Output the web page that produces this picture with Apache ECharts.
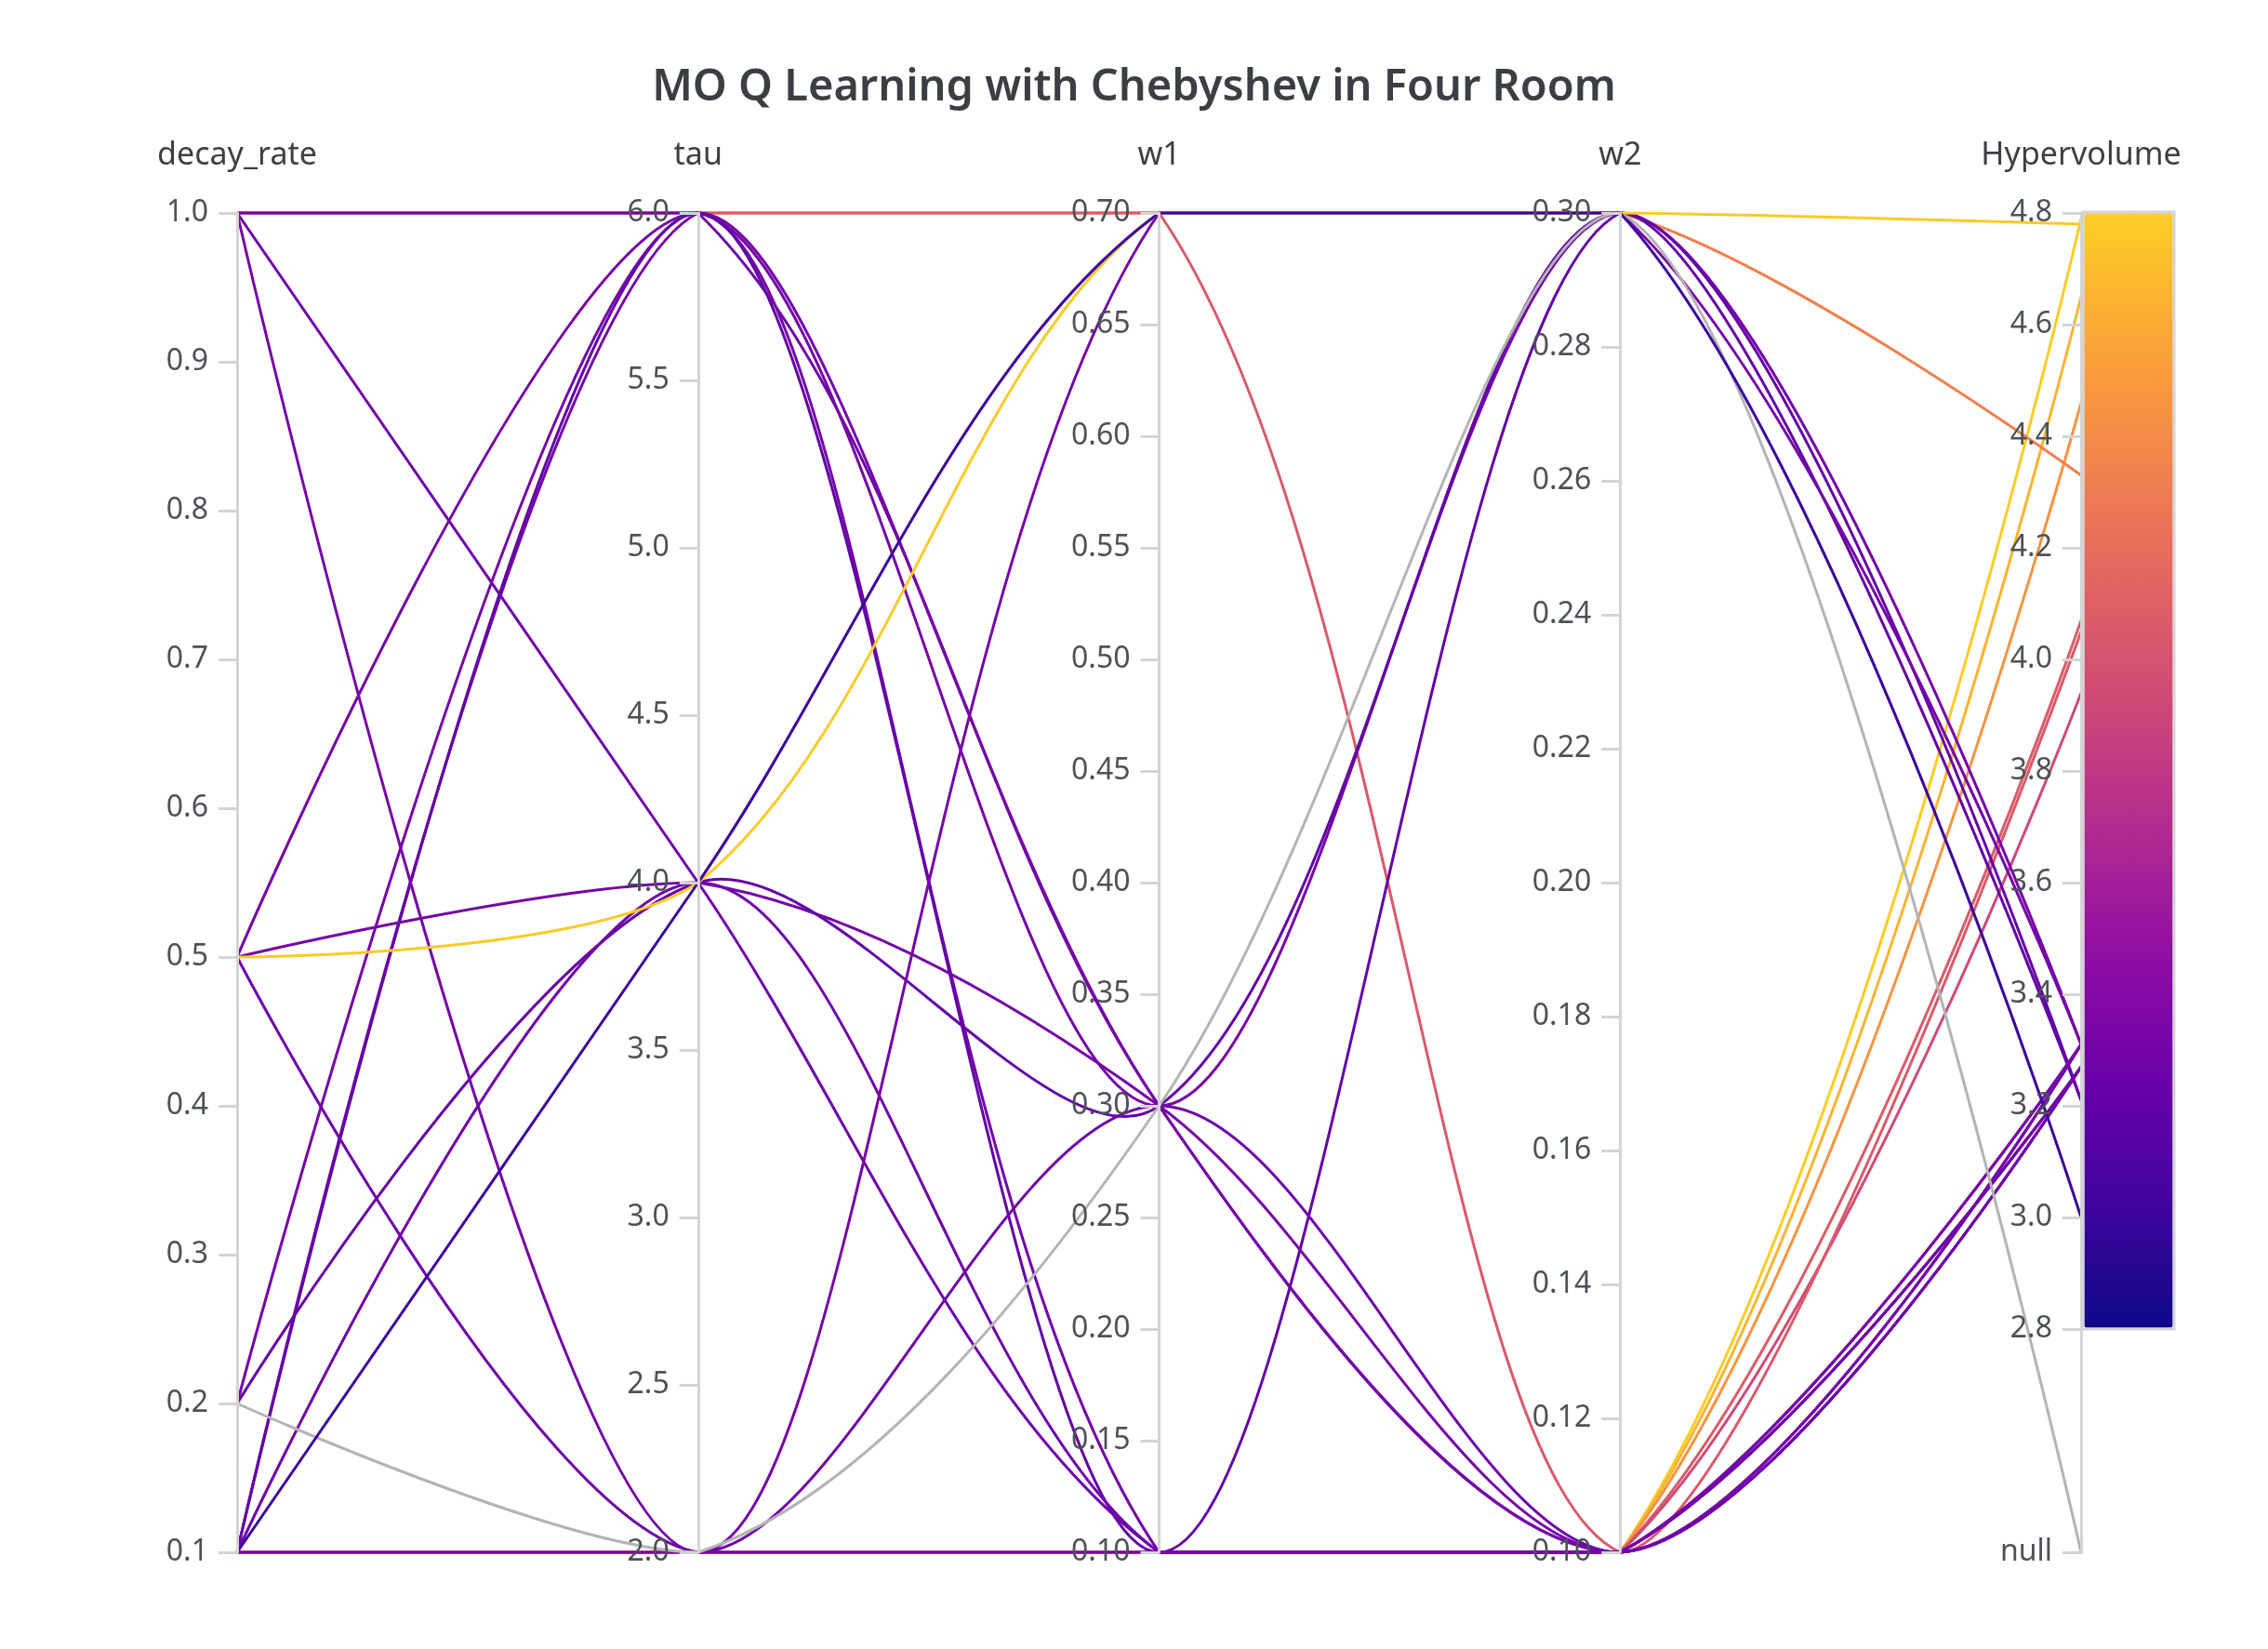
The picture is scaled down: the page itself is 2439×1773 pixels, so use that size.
<!DOCTYPE html>
<html>
<head>
<meta charset="utf-8">
<title>MO Q Learning with Chebyshev in Four Room</title>
<script src="https://cdn.jsdelivr.net/npm/echarts@6/dist/echarts.min.js"></script>
<style>
  html, body { margin: 0; padding: 0; background: #fff; }
  #chart { width: 2439px; height: 1773px; }
</style>
</head>
<body>
<div id="chart"></div>
<script>
// one entry per run, same index in every array
var decayRate   = [0.1, 0.1, 0.1, 0.1, 0.1, 1.0, 1.0, 1.0, 0.5, 0.2, 0.1, 0.1, 1.0, 0.5, 0.2, 0.1, 1.0, 0.5, 0.1, 0.2, 0.5, 0.1];
var tau         = [2, 2, 2, 2, 2, 6, 6, 6, 6, 6, 6, 6, 4, 4, 4, 4, 2, 2, 2, 2, 4, 4];
var w1          = [0.1, 0.1, 0.1, 0.1, 0.1, 0.7, 0.7, 0.3, 0.3, 0.1, 0.3, 0.1, 0.1, 0.3, 0.3, 0.1, 0.7, 0.3, 0.1, 0.3, 0.7, 0.7];
var w2          = [0.1, 0.1, 0.1, 0.1, 0.1, 0.3, 0.1, 0.1, 0.3, 0.1, 0.1, 0.3, 0.1, 0.1, 0.3, 0.1, 0.3, 0.1, 0.1, 0.3, 0.3, 0.3];
var hypervolume = [4.79, 4.65, 4.46, 4.07, 3.94, 4.33, 4.05, 3.27, 3.31, 3.31, 3.31, 3.21, 3.27, 3.31, 3.21, 3.27, 3.31, 3.27, 3.31, null, 4.78, 3.0];

var hvTicks = [2.4, 2.8, 3.0, 3.2, 3.4, 3.6, 3.8, 4.0, 4.2, 4.4, 4.6, 4.8];
var NULL_POS = 2.4;   // where runs without a hypervolume sit
var plasma = ['#0d0887', '#41049d', '#6a00a8', '#8f0da4', '#b12a90', '#cc4778', '#e16462', '#f2844b', '#fca636', '#fcce25'];

var chart = echarts.init(document.getElementById('chart'));

var data = [];
for (var i = 0; i < tau.length; i++) {
  data.push([decayRate[i], tau[i], w1[i], w2[i], hypervolume[i] == null ? NULL_POS : hypervolume[i]]);
}

function fixed(n) {
  return function (v) { return (+v).toFixed(n); };
}

var option = {
  backgroundColor: '#fff',
  animation: false,
  title: {
    text: 'MO Q Learning with Chebyshev in Four Room',
    left: 'center',
    top: 66,
    textStyle: {
      fontFamily: 'Noto Sans',
      fontSize: 47,
      fontWeight: 600,
      color: '#3b3e43'
    }
  },
  parallel: {
    left: 255,
    right: 201,
    top: 229,
    bottom: 104,
    parallelAxisDefault: {
      type: 'value',
      nameLocation: 'end',
      nameGap: 45,
      nameTextStyle: {
        fontFamily: 'Noto Sans',
        fontSize: 34,
        color: '#3c3f44'
      },
      axisLine: {
        lineStyle: { color: '#d4d4d4', width: 3 }
      },
      // parallel axes always put ticks/labels on the right, so push them left
      axisTick: {
        length: -20,
        lineStyle: { color: '#d4d4d4', width: 3 }
      },
      axisLabel: {
        margin: -31,
        align: 'right',
        fontFamily: 'Noto Sans',
        fontSize: 32,
        color: '#4d5157'
      },
      splitLine: { show: false }
    }
  },
  parallelAxis: [
    { dim: 0, name: 'decay_rate', min: 0.1, max: 1.0, interval: 0.1, axisLabel: { formatter: fixed(1) } },
    { dim: 1, name: 'tau', min: 2, max: 6, interval: 0.5, axisLabel: { formatter: fixed(1) } },
    { dim: 2, name: 'w1', min: 0.1, max: 0.7, interval: 0.05, axisLabel: { formatter: fixed(2) } },
    { dim: 3, name: 'w2', min: 0.1, max: 0.3, interval: 0.02, axisLabel: { formatter: fixed(2) } },
    {
      dim: 4, name: 'Hypervolume', min: 2.4, max: 4.8, interval: 0.2,
      axisTick: { customValues: hvTicks },
      axisLabel: {
        customValues: hvTicks,
        formatter: function (v) { return v <= NULL_POS + 0.01 ? 'null' : (+v).toFixed(1); }
      }
    }
  ],
  visualMap: {
    type: 'continuous',
    dimension: 4,
    seriesIndex: 0,
    min: 2.8,
    max: 4.8,
    range: [2.8001, 4.8],
    calculable: false,
    left: 2238.5,
    top: 226.5,
    itemWidth: 95,
    itemHeight: 1198,
    padding: 1.5,
    borderColor: '#d4d4d4',
    borderWidth: 3,
    inRange: { color: plasma },
    outOfRange: { color: '#b4b4b4' }
  },
  series: [{
    type: 'parallel',
    smooth: 0.33,
    silent: true,
    lineStyle: { width: 3, opacity: 1 },
    data: data
  }]
};

chart.setOption(option);

// keep each spline inside its own run's range so flat stretches stay flat
chart.getZr().storage.getDisplayList(true).forEach(function (el) {
  if (el.type === 'polyline') {
    el.setShape('smoothConstraint', [[Infinity, Infinity], [-Infinity, -Infinity]]);
  }
});
chart.getZr().refreshImmediately();
</script>
</body>
</html>
